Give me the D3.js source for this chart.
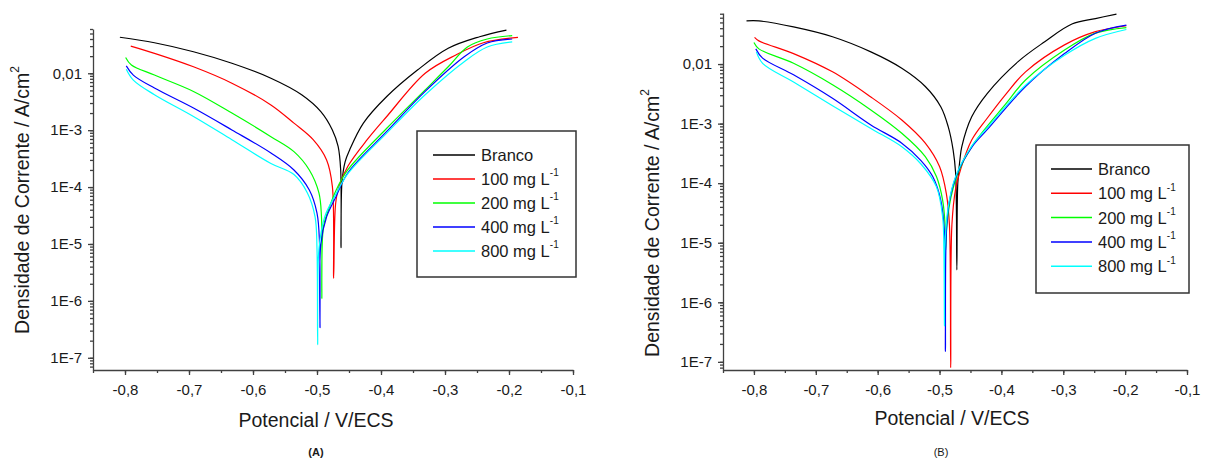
<!DOCTYPE html>
<html lang="pt">
<head>
  <meta charset="UTF-8">
  <title>Curvas de polarização</title>
  <script src="https://d3js.org/d3.v7.min.js"></script>
  <style>
    body {
      margin: 0;
      background: #ffffff;
      font-family: Arial, "Liberation Sans", sans-serif;
    }
    .axis path, .axis line { stroke: #404040; stroke-width: 1.3; }
    .tick-label { font-size: 15px; fill: #1a1a1a; }
    .axis-title { font-size: 19.5px; fill: #1a1a1a; }
    .panel-tag { font-size: 11px; fill: #1a1a1a; }
    .legend-box { fill: #ffffff; stroke: #333333; stroke-width: 1.5; }
    .legend-text { font-size: 16.5px; fill: #1a1a1a; }
    .curve { fill: none; stroke-width: 1.2; }
  </style>
</head>
<body>
  <svg id="chart"></svg>
  <script>
    // series labels and colors
    const seriesLabels = ["Branco", "100 mg L", "200 mg L", "400 mg L", "800 mg L"];
    const seriesColors = ["#000000", "#ff0000", "#00ff00", "#0000ff", "#00ffff"];

    const xTickValues = [-0.8, -0.7, -0.6, -0.5, -0.4, -0.3, -0.2, -0.1];
    const xTickLabels = ["-0,8", "-0,7", "-0,6", "-0,5", "-0,4", "-0,3", "-0,2", "-0,1"];
    const yTickValues = [1e-2, 1e-3, 1e-4, 1e-5, 1e-6, 1e-7];
    const yTickLabels = ["0,01", "1E-3", "1E-4", "1E-5", "1E-6", "1E-7"];

    // panel A: [potential V, current density A/cm2]
    const aBranco = [[-0.808,0.043],[-0.754,0.0344],[-0.693,0.0239],[-0.633,0.015],[-0.572,0.0082],[-0.524,0.0042],[-0.494,0.00212],[-0.476,0.00101],[-0.467,5.2e-4],[-0.463,2e-4],[-0.4625,8.6e-6],[-0.461,1.2e-4],[-0.456,2.8e-4],[-0.449,4.5e-4],[-0.4275,1.33e-3],[-0.391,3.9e-3],[-0.343,0.0114],[-0.295,0.0275],[-0.246,0.0439],[-0.204,0.0575]];
    const a100 = [[-0.791,0.030],[-0.754,0.0224],[-0.693,0.013],[-0.633,0.0067],[-0.572,0.00278],[-0.536,1.33e-3],[-0.506,6.8e-4],[-0.485,3e-4],[-0.476,1.03e-4],[-0.474,2.5e-6],[-0.471,5e-5],[-0.466,1e-4],[-0.452,2.3e-4],[-0.4216,6.8e-4],[-0.391,1.74e-3],[-0.331,0.01],[-0.283,0.021],[-0.24,0.0344],[-0.186,0.0428]];
    const a200 = [[-0.799,0.019],[-0.79,0.014],[-0.754,0.0093],[-0.693,0.0048],[-0.633,0.002],[-0.572,7.7e-4],[-0.536,4.2e-4],[-0.512,2e-4],[-0.497,7.9e-5],[-0.493,3e-5],[-0.4925,1.1e-6],[-0.49,2e-5],[-0.482,4e-5],[-0.47,8.9e-5],[-0.452,2e-4],[-0.391,1.08e-3],[-0.331,5.1e-3],[-0.295,0.013],[-0.265,0.029],[-0.234,0.04],[-0.195,0.046]];
    const a400 = [[-0.798,0.0135],[-0.787,0.0093],[-0.754,0.0055],[-0.693,0.00245],[-0.633,1.01e-3],[-0.572,3.97e-4],[-0.536,2e-4],[-0.512,8.9e-5],[-0.5,3.5e-5],[-0.496,1e-5],[-0.4953,3.4e-7],[-0.494,1e-5],[-0.485,3e-5],[-0.47,6.9e-5],[-0.452,1.77e-4],[-0.391,9.5e-4],[-0.331,4.8e-3],[-0.27,0.0195],[-0.234,0.034],[-0.195,0.04]];
    const a800 = [[-0.798,0.0118],[-0.787,0.0076],[-0.754,0.0042],[-0.693,0.00174],[-0.633,6.8e-4],[-0.572,2.6e-4],[-0.536,1.66e-4],[-0.515,7.9e-5],[-0.503,3e-5],[-0.5,8e-6],[-0.499,1.7e-7],[-0.497,8e-6],[-0.488,3e-5],[-0.472,7e-5],[-0.452,1.7e-4],[-0.391,8.9e-4],[-0.331,4.2e-3],[-0.27,0.016],[-0.234,0.029],[-0.195,0.0356]];

    // panel B
    const bBranco = [[-0.812,0.053],[-0.792,0.053],[-0.736,0.042],[-0.673,0.0287],[-0.611,0.016],[-0.561,0.0085],[-0.523,0.0042],[-0.498,1.92e-3],[-0.486,8.9e-4],[-0.478,3.6e-4],[-0.474,1.48e-4],[-0.472,3.5e-6],[-0.4705,1.0e-4],[-0.467,2.5e-4],[-0.464,4.1e-4],[-0.448,1.3e-3],[-0.423,3.2e-3],[-0.373,0.011],[-0.33,0.0237],[-0.286,0.047],[-0.248,0.058],[-0.214,0.069]];
    const b100 = [[-0.799,0.028],[-0.792,0.0245],[-0.736,0.015],[-0.673,0.0074],[-0.611,0.0028],[-0.561,1.15e-3],[-0.523,4.7e-4],[-0.5,1.9e-4],[-0.489,6.7e-5],[-0.484,2e-5],[-0.482,8e-8],[-0.48,2e-5],[-0.474,8e-5],[-0.466,1.7e-4],[-0.448,5.3e-4],[-0.423,1.23e-3],[-0.392,3.2e-3],[-0.361,7.4e-3],[-0.298,0.021],[-0.248,0.035],[-0.198,0.044]];
    const b200 = [[-0.8,0.023],[-0.792,0.018],[-0.736,0.0103],[-0.673,0.0045],[-0.611,1.7e-3],[-0.561,6.9e-4],[-0.523,2.8e-4],[-0.505,1.29e-4],[-0.495,5.2e-5],[-0.491,2e-5],[-0.49,7.6e-6],[-0.488,2e-5],[-0.482,5.5e-5],[-0.47,1.5e-4],[-0.448,4.1e-4],[-0.392,2.2e-3],[-0.361,5.4e-3],[-0.298,0.0172],[-0.248,0.033],[-0.198,0.041]];
    const b400 = [[-0.797,0.018],[-0.786,0.0126],[-0.736,0.0066],[-0.673,2.66e-3],[-0.611,9.5e-4],[-0.561,4.7e-4],[-0.53,2.4e-4],[-0.511,1.29e-4],[-0.498,5.2e-5],[-0.492,1.5e-5],[-0.4905,1.5e-7],[-0.489,1.5e-5],[-0.484,5e-5],[-0.472,1.4e-4],[-0.448,4e-4],[-0.423,7.9e-4],[-0.361,4.2e-3],[-0.298,0.015],[-0.248,0.033],[-0.198,0.045]];
    const b800 = [[-0.796,0.016],[-0.786,0.0103],[-0.736,0.005],[-0.673,2e-3],[-0.611,8.3e-4],[-0.561,4.1e-4],[-0.53,2.1e-4],[-0.505,8.7e-5],[-0.495,2.7e-5],[-0.493,8e-6],[-0.492,4e-7],[-0.4915,8e-6],[-0.486,4e-5],[-0.474,1.3e-4],[-0.448,4.2e-4],[-0.423,8.5e-4],[-0.361,4.4e-3],[-0.298,0.014],[-0.248,0.027],[-0.198,0.038]];

    const svg = d3.select("#chart").attr("width", 1207).attr("height", 462);

    const panels = [
      { series: [aBranco, a100, a200, a400, a800], tag: "(A)", bold: true,
        x0: 93, x1: 573, yTop: 29, yBot: 370, yDom: [6.1e-8, 0.06],
        yTitleX: 22, yTitleY: 200, xTitleX: 316, xTitleY: 427, tagX: 316,
        leg: { x: 417, y: 131, w: 159, h: 146, lx0: 433, lx1: 475, tx: 481, ty0: 155, dy: 24 } },
      { series: [bBranco, b100, b200, b400, b800], tag: "(B)", bold: false,
        x0: 723, x1: 1187, yTop: 13, yBot: 370, yDom: [7.3e-8, 0.072],
        yTitleX: 652, yTitleY: 223, xTitleX: 952, xTitleY: 425, tagX: 941,
        leg: { x: 1036, y: 145, w: 153, h: 148, lx0: 1051, lx1: 1092, tx: 1098, ty0: 169, dy: 24.3 } }
    ];

    panels.forEach(p => {
      const x = d3.scaleLinear().domain([-0.85, -0.1]).range([p.x0, p.x1]);
      const y = d3.scaleLog().domain(p.yDom).range([p.yBot, p.yTop]);
      const g = svg.append("g");

      // x axis: major ticks with labels, minor ticks at 0.05
      const xMinor = d3.range(-0.85, -0.09, 0.05).map(v => +v.toFixed(2));
      g.append("g").attr("class", "axis")
        .attr("transform", `translate(0,${p.yBot})`)
        .call(d3.axisBottom(x).tickValues(xMinor).tickSize(3).tickFormat(""))
        .call(a => a.select(".domain").remove());
      const xa = g.append("g").attr("class", "axis")
        .attr("transform", `translate(0,${p.yBot})`)
        .call(d3.axisBottom(x).tickValues(xTickValues).tickSize(5).tickSizeOuter(0)
          .tickFormat((d, i) => xTickLabels[i]));
      xa.selectAll("text").attr("class", "tick-label").attr("dy", "1.1em");
      xa.attr("font-family", null).attr("font-size", null);

      // y axis: log, minor ticks 2..9
      const yMinor = [];
      for (let e = -8; e <= -1; e++) {
        for (let k = 1; k <= 9; k++) {
          const v = k * Math.pow(10, e);
          if (v >= p.yDom[0] && v <= p.yDom[1]) yMinor.push(v);
        }
      }
      g.append("g").attr("class", "axis")
        .attr("transform", `translate(${p.x0},0)`)
        .call(d3.axisLeft(y).tickValues(yMinor).tickSize(3).tickFormat(""))
        .call(a => a.select(".domain").remove());
      const ya = g.append("g").attr("class", "axis")
        .attr("transform", `translate(${p.x0},0)`)
        .call(d3.axisLeft(y).tickValues(yTickValues).tickSize(5).tickSizeOuter(0)
          .tickFormat((d, i) => yTickLabels[i]));
      ya.selectAll("text").attr("class", "tick-label").attr("dx", "-0.2em");
      ya.attr("font-family", null).attr("font-size", null);

      // curves
      const line = d3.line()
        .x(d => x(d[0]))
        .y(d => y(d[1]))
        .curve(d3.curveCatmullRom.alpha(0.5));
      p.series.forEach((s, i) => {
        g.append("path").attr("class", "curve")
          .attr("d", line(s))
          .attr("stroke", seriesColors[i]);
      });

      // titles
      const yt = g.append("text").attr("class", "axis-title")
        .attr("text-anchor", "middle")
        .attr("transform", `translate(${p.yTitleX},${p.yTitleY}) rotate(-90)`)
        .attr("dy", "0.35em");
      yt.append("tspan").text("Densidade de Corrente / A/cm");
      yt.append("tspan").attr("font-size", "12px").attr("dy", "-0.8em").text("2");

      g.append("text").attr("class", "axis-title")
        .attr("x", p.xTitleX).attr("y", p.xTitleY)
        .attr("text-anchor", "middle")
        .text("Potencial / V/ECS");

      g.append("text").attr("class", "panel-tag")
        .attr("x", p.tagX).attr("y", 456)
        .attr("text-anchor", "middle")
        .attr("font-weight", p.bold ? "bold" : "normal")
        .text(p.tag);

      // legend
      const L = p.leg;
      g.append("rect").attr("class", "legend-box")
        .attr("x", L.x).attr("y", L.y).attr("width", L.w).attr("height", L.h);
      seriesLabels.forEach((lab, i) => {
        const cy = L.ty0 + i * L.dy;
        g.append("line")
          .attr("x1", L.lx0).attr("x2", L.lx1).attr("y1", cy).attr("y2", cy)
          .attr("stroke", seriesColors[i]).attr("stroke-width", 1.5);
        const t = g.append("text").attr("class", "legend-text")
          .attr("x", L.tx).attr("y", cy).attr("dy", "0.36em");
        t.append("tspan").text(lab);
        if (i > 0) {
          t.append("tspan").attr("font-size", "10px").attr("dy", "-0.85em").text("-1");
        }
      });
    });
  </script>
</body>
</html>
